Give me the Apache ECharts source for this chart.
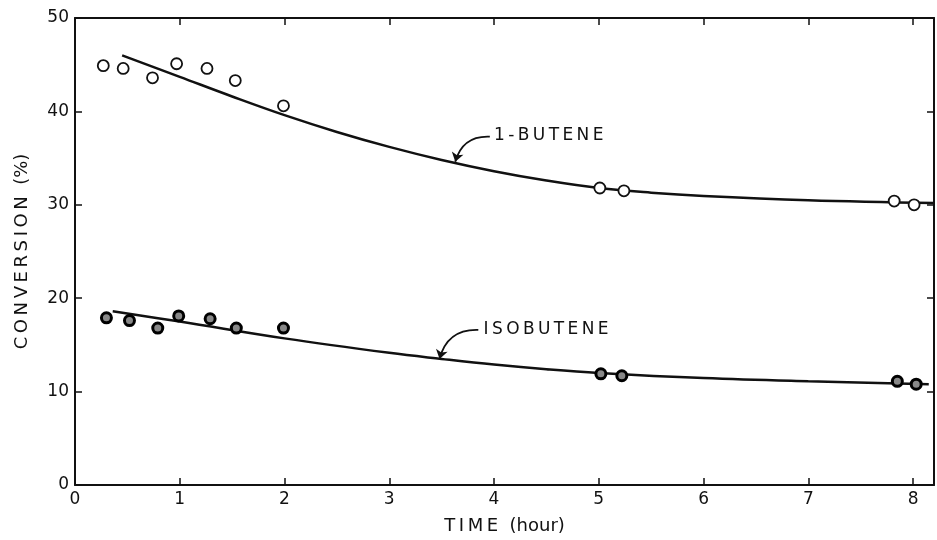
<!DOCTYPE html>
<html>
<head>
<meta charset="utf-8">
<script src="https://cdn.jsdelivr.net/npm/echarts@6/dist/echarts.min.js"></script>
<style>
  html, body { margin: 0; padding: 0; background: #fff; }
  #main { width: 937px; height: 540px; }
</style>
</head>
<body>
<div id="main"></div>
<script>
// measured points (time in hours, conversion in %)
var buteneTime = [0.27, 0.46, 0.74, 0.97, 1.26, 1.53, 1.99, 5.01, 5.24, 7.82, 8.01];
var buteneConv = [44.9, 44.6, 43.6, 45.1, 44.6, 43.3, 40.6, 31.8, 31.5, 30.4, 30.0];
var isoTime = [0.30, 0.52, 0.79, 0.99, 1.29, 1.54, 1.99, 5.02, 5.22, 7.85, 8.03];
var isoConv = [17.9, 17.6, 16.8, 18.1, 17.8, 16.8, 16.8, 11.9, 11.7, 11.1, 10.8];

// fitted curves
var buteneFitTime = [0.45, 1, 1.5, 2, 2.5, 3, 3.5, 4, 4.5, 5, 5.5, 6, 7, 8.2];
var buteneFitConv = [46.0, 43.7, 41.6, 39.6, 37.8, 36.2, 34.8, 33.6, 32.6, 31.8, 31.3, 30.95, 30.5, 30.2];
var isoFitTime = [0.36, 1, 2, 3, 3.5, 4, 4.5, 5, 6, 7, 8.15];
var isoFitConv = [18.6, 17.5, 15.7, 14.15, 13.5, 12.9, 12.4, 12.0, 11.45, 11.1, 10.8];

// curve labels: text anchor and arrow (tail -> head)
var labelNames = ['1-BUTENE', 'ISOBUTENE'];
var labelAt = [[4.0, 37.4], [3.9, 16.6]];
var arrowFrom = [[3.96, 37.3], [3.85, 16.6]];
var arrowTo = [[3.63, 34.6], [3.48, 13.5]];

var xTicks = [0, 1, 2, 3, 4, 5, 6, 7, 8];
var yTicks = [0, 10, 20, 30, 40, 50];

function pairs(xs, ys) {
    return xs.map(function (x, i) { return [x, ys[i]]; });
}
function spaced(s) {
    return s.split('').join('\u2009');
}

var font = '"DejaVu Sans", "Liberation Sans", sans-serif';
var ink = '#111';

var axisBase = {
    type: 'value',
    axisLine: { show: true, onZero: false, lineStyle: { color: ink, width: 2 } },
    axisTick: { show: true, inside: true, length: 7, lineStyle: { color: ink, width: 1.5 } },
    splitLine: { show: false }
};

var myChart = echarts.init(document.getElementById('main'));
myChart.setOption({
    backgroundColor: '#fff',
    animation: false,
    grid: { left: 75, right: 3, top: 18, bottom: 54 },
    xAxis: [
        Object.assign({}, axisBase, {
            min: 0, max: 8.2, interval: 1,
            position: 'bottom',
            name: spaced('TIME') + '  (hour)',
            nameLocation: 'middle',
            nameGap: 32,
            nameTextStyle: { fontFamily: font, fontSize: 18, color: ink },
            axisLabel: {
                fontFamily: font, fontSize: 17, color: ink, margin: 6,
                showMaxLabel: false,
                formatter: function (v) { return xTicks.indexOf(v) >= 0 ? String(v) : ''; }
            }
        }),
        Object.assign({}, axisBase, {
            min: 0, max: 8.2, interval: 1,
            position: 'top',
            axisLabel: { show: false }
        })
    ],
    yAxis: [
        Object.assign({}, axisBase, {
            min: 0, max: 50, interval: 10,
            position: 'left',
            name: spaced('CONVERSION') + '  (%)',
            nameLocation: 'middle',
            nameGap: 44,
            nameRotate: 90,
            nameTextStyle: { fontFamily: font, fontSize: 18, color: ink },
            axisLabel: {
                fontFamily: font, fontSize: 17, color: ink, margin: 6,
                formatter: function (v) { return yTicks.indexOf(v) >= 0 ? String(v) : ''; }
            }
        }),
        Object.assign({}, axisBase, {
            min: 0, max: 50, interval: 10,
            position: 'right',
            axisLabel: { show: false }
        })
    ],
    series: [
        {
            name: '1-BUTENE fit',
            type: 'line',
            smooth: 0.4,
            showSymbol: false,
            data: pairs(buteneFitTime, buteneFitConv),
            lineStyle: { color: ink, width: 2.5 },
            markPoint: {
                silent: true,
                symbol: 'circle',
                symbolSize: 0,
                label: {
                    show: true, position: 'right', distance: 0,
                    fontFamily: font, fontSize: 17, color: ink,
                    formatter: spaced(labelNames[0])
                },
                data: [{ coord: labelAt[0] }]
            }
        },
        {
            name: 'ISOBUTENE fit',
            type: 'line',
            smooth: 0.4,
            showSymbol: false,
            data: pairs(isoFitTime, isoFitConv),
            lineStyle: { color: ink, width: 2.5 },
            markPoint: {
                silent: true,
                symbol: 'circle',
                symbolSize: 0,
                label: {
                    show: true, position: 'right', distance: 0,
                    fontFamily: font, fontSize: 17, color: ink,
                    formatter: spaced(labelNames[1])
                },
                data: [{ coord: labelAt[1] }]
            }
        },
        {
            name: 'arrows',
            type: 'lines',
            coordinateSystem: 'cartesian2d',
            silent: true,
            symbol: ['none', 'arrow'],
            symbolSize: 9,
            lineStyle: { color: ink, width: 1.8, opacity: 1, curveness: -0.4 },
            data: [
                { coords: [arrowFrom[0], arrowTo[0]] },
                { coords: [arrowFrom[1], arrowTo[1]] }
            ],
            z: 4
        },
        {
            name: '1-BUTENE',
            type: 'scatter',
            symbol: 'circle',
            symbolSize: 11,
            data: pairs(buteneTime, buteneConv),
            itemStyle: { color: '#fff', borderColor: ink, borderWidth: 1.8, opacity: 1 },
            z: 5
        },
        {
            name: 'ISOBUTENE',
            type: 'scatter',
            symbol: 'circle',
            symbolSize: 10,
            data: pairs(isoTime, isoConv),
            itemStyle: { color: '#888', borderColor: '#000', borderWidth: 3, opacity: 1 },
            z: 5
        }
    ]
});
</script>
</body>
</html>
